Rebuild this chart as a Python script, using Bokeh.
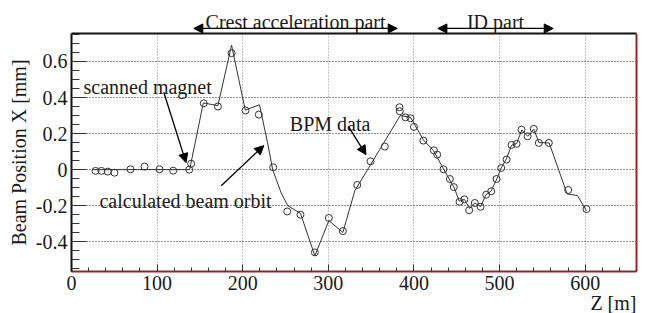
from bokeh.plotting import figure
from bokeh.models import (Range1d, FixedTicker, Label, Arrow, NormalHead, LinearAxis, Grid)
from bokeh.embed import file_html
from bokeh.resources import INLINE

# ---- data ----
bpm_z = [28, 35, 42.4, 50.2, 68.9, 85.3, 102.8, 118.8, 137.5, 139.8,
         154.5, 171, 187, 203.3, 218.8, 235.6, 252, 267.5, 284.3, 300.6,
         317, 333.8, 349.3, 366, 383.2, 383.5, 390.2, 396, 400,
         411, 423.3, 427.2, 434.5, 442, 446.6, 453.3, 459, 464.5, 471.1,
         477.8, 484.4, 490.3, 496.5, 502, 508.2, 514, 519.9, 525.7, 532.8,
         540, 545.9, 557.6, 580.2, 601.6]
bpm_x = [-0.007, -0.007, -0.011, -0.017, 0.002, 0.017, 0.002, -0.006, 0.0, 0.033,
         0.368, 0.35, 0.646, 0.328, 0.305, 0.013, -0.232, -0.25, -0.459, -0.268,
         -0.341, -0.085, 0.046, 0.128, 0.346, 0.324, 0.29, 0.285, 0.237,
         0.161, 0.107, 0.083, 0.002, -0.052, -0.097, -0.178, -0.165, -0.225, -0.185,
         -0.206, -0.139, -0.12, -0.052, 0.009, 0.056, 0.137, 0.143, 0.222, 0.185,
         0.226, 0.148, 0.148, -0.113, -0.219]

orbit_z = [25, 138, 154, 171, 187, 203, 219.6, 229, 235, 245, 252.7, 267.5,
           284.3, 300.6, 317, 331, 384, 396, 411, 423, 435, 447, 453, 459,
           465, 471, 478, 484, 490, 497, 502, 508, 514, 520, 526, 533, 540,
           546, 558, 579, 591, 601.6]
orbit_x = [0.0, 0.0, 0.37, 0.355, 0.69, 0.33, 0.36, 0.15, 0.0, -0.13, -0.2, -0.243,
           -0.478, -0.283, -0.348, -0.117, 0.30, 0.29, 0.165, 0.105, 0.0, -0.1, -0.175, -0.165,
           -0.215, -0.185, -0.205, -0.14, -0.12, -0.05, 0.01, 0.06, 0.135, 0.145, 0.22, 0.185, 0.225,
           0.15, 0.148, -0.135, -0.144, -0.228]

x_ticks = [0, 100, 200, 300, 400, 500, 600]
y_ticks = [-0.4, -0.2, 0, 0.2, 0.4, 0.6]
y_tick_labels = ["-0.4", "-0.2", "0", "0.2", "0.4", "0.6"]

X_MIN, X_MAX = 0, 660          # axis (box) limits
Y_MIN, Y_MAX = -0.565, 0.755

FONT = "Liberation Serif"
FS = "20px"
INK = "#1a1a1a"
RED = "#8b2a2a"

# the frame covers the whole canvas; the box is drawn with fixed-location axes
W, H = 646, 313
BOX_LEFT, BOX_TOP, BOX_BOTTOM, BOX_RIGHT = 71, 33, 271, 636
sx = (BOX_RIGHT - BOX_LEFT) / (X_MAX - X_MIN)
sy = (BOX_BOTTOM - BOX_TOP) / (Y_MAX - Y_MIN)
xr = Range1d(X_MIN - BOX_LEFT / sx, X_MAX + (W - BOX_RIGHT) / sx)
yr = Range1d(Y_MIN - (H - BOX_BOTTOM) / sy, Y_MAX + BOX_TOP / sy)

p = figure(width=W, height=H, output_backend="svg", toolbar_location=None,
           x_range=xr, y_range=yr, x_axis_location=None, y_axis_location=None,
           min_border_left=0, min_border_right=0, min_border_top=0, min_border_bottom=0)
p.background_fill_color = "white"
p.border_fill_color = "white"
p.outline_line_color = None
p.xgrid.visible = False
p.ygrid.visible = False

def style(ax):
    ax.major_label_text_font = FONT
    ax.major_label_text_font_size = FS
    ax.major_label_text_color = INK
    ax.axis_label_text_font = FONT
    ax.axis_label_text_font_size = FS
    ax.axis_label_text_font_style = "normal"
    ax.axis_label_text_color = INK
    ax.major_tick_out = 0
    ax.minor_tick_out = 0
    ax.major_tick_line_color = "#333333"
    ax.minor_tick_line_color = "#333333"
    ax.major_label_standoff = 4

xaxis = LinearAxis(ticker=FixedTicker(ticks=x_ticks, minor_ticks=list(range(0, 661, 20))),
                   fixed_location=Y_MIN, bounds=(X_MIN, X_MAX))
style(xaxis)
xaxis.major_tick_in = 7
xaxis.minor_tick_in = 4
xaxis.axis_line_color = RED
xaxis.axis_line_width = 2
p.add_layout(xaxis, "below")

yaxis = LinearAxis(ticker=FixedTicker(ticks=y_ticks,
                                      minor_ticks=[round(-0.55 + 0.05 * i, 2) for i in range(27)]),
                   fixed_location=X_MIN, bounds=(Y_MIN, Y_MAX), axis_label="Beam Position X [mm]")
style(yaxis)
yaxis.major_label_overrides = {t: l for t, l in zip(y_ticks, y_tick_labels)}
yaxis.major_tick_in = 15
yaxis.minor_tick_in = 8
yaxis.axis_line_color = "#111111"
yaxis.axis_line_width = 2
yaxis.axis_label_standoff = 3
p.add_layout(yaxis, "left")

# top and right edges of the box
top = LinearAxis(ticker=FixedTicker(ticks=[]), fixed_location=Y_MAX, bounds=(X_MIN, X_MAX),
                 major_label_text_color=None, major_tick_line_color=None,
                 minor_tick_line_color=None, axis_line_color="#111111", axis_line_width=2)
p.add_layout(top, "above")
right = LinearAxis(ticker=FixedTicker(ticks=[]), fixed_location=X_MAX, bounds=(Y_MIN, Y_MAX),
                   major_label_text_color=None, major_tick_line_color=None,
                   minor_tick_line_color=None, axis_line_color=RED, axis_line_width=2)
p.add_layout(right, "right")

# dotted grids limited to the box
has_cb = "cross_bounds" in Grid.properties()
if has_cb:
    gx = Grid(dimension=0, axis=xaxis, ticker=xaxis.ticker, cross_bounds=(Y_MIN, Y_MAX),
              grid_line_color="#888888", grid_line_dash="1 2", grid_line_width=1)
    gy = Grid(dimension=1, axis=yaxis, ticker=yaxis.ticker, cross_bounds=(X_MIN, X_MAX),
              grid_line_color="#222222", grid_line_dash="1 2", grid_line_width=1)
    p.add_layout(gx)
    p.add_layout(gy)
else:
    p.segment(x0=x_ticks[1:], y0=[Y_MIN] * 6, x1=x_ticks[1:], y1=[Y_MAX] * 6,
              line_color="#888888", line_dash="1 2", line_width=1)
    p.segment(x0=[X_MIN] * 6, y0=y_ticks, x1=[X_MAX] * 6, y1=y_ticks,
              line_color="#222222", line_dash="1 2", line_width=1)

# data
p.line(orbit_z, orbit_x, line_color="#333333", line_width=1)
p.scatter(bpm_z, bpm_x, marker="circle", size=7, fill_color=None,
          line_color="#333333", line_width=1)

# annotations
def lab(x, y, t, align="left", base="alphabetic"):
    p.add_layout(Label(x=x, y=y, text=t, text_font=FONT, text_font_size=FS,
                       text_color=INK, text_align=align, text_baseline=base))

lab(14, 0.461, "scanned magnet")
lab(32.7, -0.176, "calculated beam orbit")
lab(255, 0.254, "BPM data")
lab(261.7, 0.818, "Crest acceleration part", align="center")
lab(495.3, 0.818, "ID part", align="center")
lab(660, -0.737, "Z [m]", align="right", base="middle")

def arr(x0, y0, x1, y1, both=False):
    kw = dict(end=NormalHead(size=9, fill_color="black", line_color="black"),
              x_start=x0, y_start=y0, x_end=x1, y_end=y1,
              line_color="black", line_width=1.3)
    kw["start"] = NormalHead(size=9, fill_color="black", line_color="black") if both else None
    p.add_layout(Arrow(**kw))

arr(107.8, 0.429, 133.8, 0.039)
arr(174.9, -0.089, 224.6, 0.133)
arr(323.6, 0.239, 344, 0.083)
arr(142.9, 0.783, 380.5, 0.783, both=True)
arr(428, 0.783, 562.7, 0.783, both=True)

open("out.html", "w").write(file_html(p, INLINE))
